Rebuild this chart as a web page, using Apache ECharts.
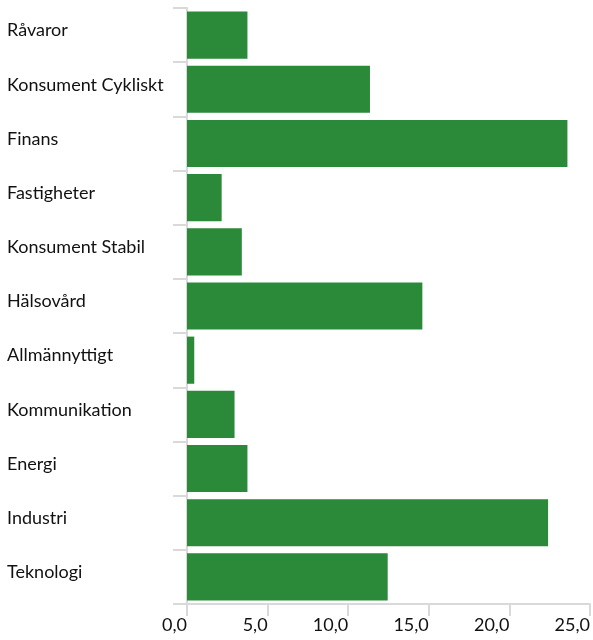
<!DOCTYPE html>
<html>
<head>
<meta charset="utf-8">
<script src="https://cdn.jsdelivr.net/npm/echarts@6/dist/echarts.min.js"></script>
<style>
  html, body { margin: 0; padding: 0; background: #fff; }
  #main { width: 593px; height: 640px; }
</style>
</head>
<body>
<div id="main"></div>
<script>
var chart = echarts.init(document.getElementById('main'));

var sectors = ['Råvaror', 'Konsument Cykliskt', 'Finans', 'Fastigheter', 'Konsument Stabil',
    'Hälsovård', 'Allmännyttigt', 'Kommunikation', 'Energi', 'Industri', 'Teknologi'];
var weights = [3.75, 11.35, 23.6, 2.15, 3.4, 14.6, 0.45, 2.95, 3.75, 22.4, 12.45];
var xTicks = [0, 5, 10, 15, 20, 25];

var gridLine = '#d9d9d9';

var option = {
    animation: false,
    grid: {
        left: 187,
        right: 2,
        top: 8,
        bottom: 36,
        containLabel: false
    },
    xAxis: {
        type: 'value',
        min: xTicks[0],
        max: xTicks[xTicks.length - 1],
        interval: 5,
        axisLine: { show: true, lineStyle: { color: gridLine, width: 2 } },
        axisTick: { show: true, length: 12, lineStyle: { color: gridLine, width: 2 } },
        splitLine: { show: false },
        axisLabel: {
            align: 'right',
            margin: 12,
            fontFamily: 'Lato',
            fontSize: 18,
            color: '#111',
            formatter: function (v) {
                return v.toFixed(1).replace('.', ',');
            }
        }
    },
    yAxis: {
        type: 'category',
        data: sectors,
        inverse: true,
        axisLine: { show: true, lineStyle: { color: gridLine, width: 2 } },
        axisTick: { show: true, length: 14, lineStyle: { color: gridLine, width: 2 } },
        axisLabel: {
            align: 'left',
            verticalAlign: 'bottom',
            lineHeight: 9,
            margin: 180,
            fontFamily: 'Lato',
            fontSize: 18,
            color: '#111'
        }
    },
    series: [{
        type: 'bar',
        data: weights,
        barCategoryGap: '13%',
        itemStyle: { color: '#2b893a' }
    }]
};

chart.setOption(option);

window.onresize = chart.resize;
</script>
</body>
</html>
